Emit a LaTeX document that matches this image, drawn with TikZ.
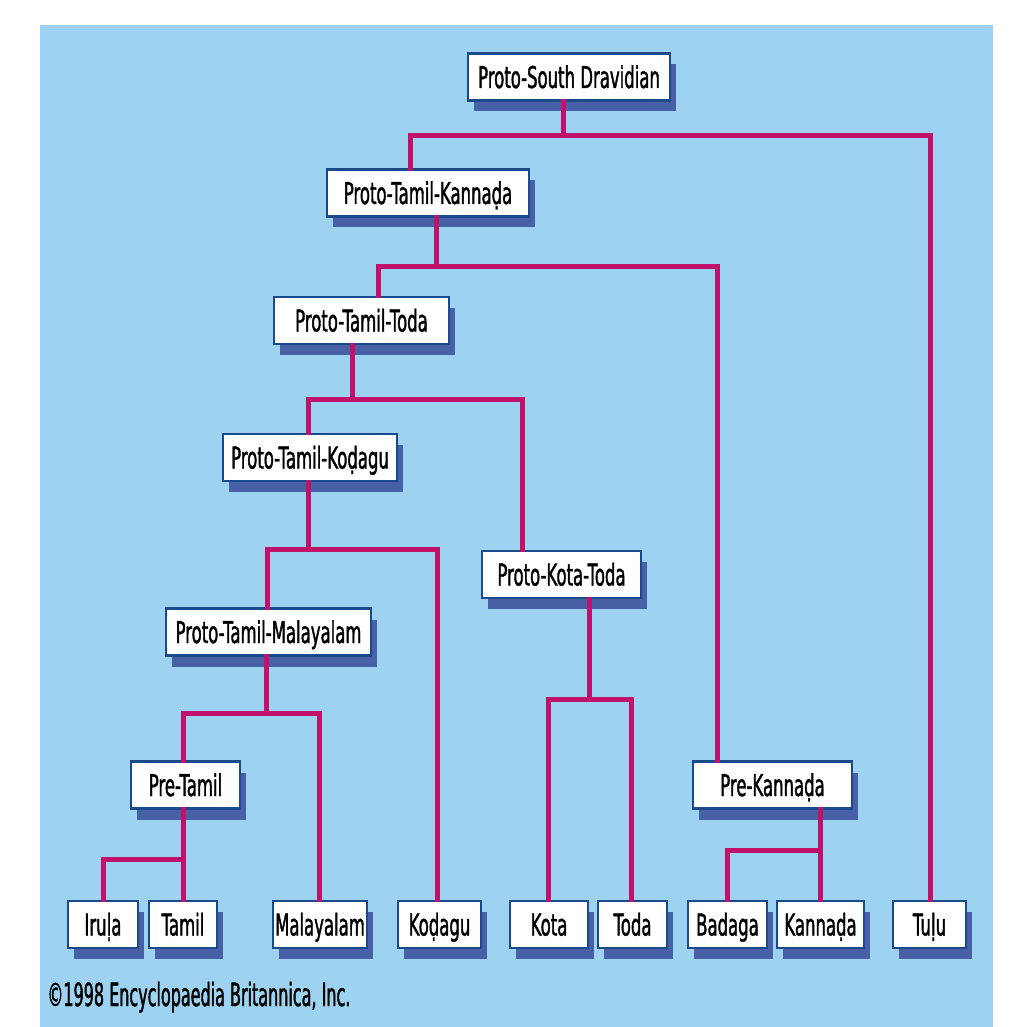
\documentclass[tikz,border=0pt]{standalone}
\usepackage{fontspec}
\newfontfamily\pix[FakeStretch=0.55,FakeBold=1.2]{DejaVu Sans}
\newfontfamily\pixc[FakeStretch=0.5,FakeBold=1.2]{DejaVu Sans}
\usetikzlibrary{shadows}
\definecolor{bgblue}{RGB}{158,210,241}
\definecolor{boxedge}{RGB}{25,75,140}
\definecolor{shadowc}{RGB}{72,96,165}
\definecolor{linkc}{RGB}{192,17,107}
\tikzset{
  box/.style={draw=boxedge, line width=1.2pt, fill=white, inner sep=0pt,
    minimum height=23.5pt, text height=11pt, text depth=0pt,
    font=\pix\fontsize{15}{18}\selectfont,
    drop shadow={shadow xshift=3pt, shadow yshift=-5.5pt, fill=shadowc, opacity=1}},
  link/.style={draw=linkc, line width=2.5pt, line cap=rect}
}
\begin{document}
\begin{tikzpicture}[x=0.5pt,y=-0.5pt]
\useasboundingbox (0,0) rectangle (1014,1027);
\fill[bgblue] (40,25) rectangle (993,1027);

% junction coordinates
\coordinate (j1) at (563,136);
\coordinate (j1l) at (410,136);
\coordinate (j1r) at (930,136);
\coordinate (j2) at (436,266);
\coordinate (j2l) at (378,266);
\coordinate (j2r) at (717,266);
\coordinate (j3) at (352,399);
\coordinate (j3l) at (308,399);
\coordinate (j3r) at (522,399);
\coordinate (j4) at (308,549);
\coordinate (j4l) at (267,549);
\coordinate (j4r) at (437,549);
\coordinate (j5) at (589,699);
\coordinate (j5l) at (548,699);
\coordinate (j5r) at (631,699);
\coordinate (j6) at (266,713);
\coordinate (j6l) at (183,713);
\coordinate (j6r) at (319,713);
\coordinate (j7) at (183,859);
\coordinate (j7l) at (103,859);
\coordinate (j8) at (820,850);
\coordinate (j8l) at (727,850);

% horizontal connectors
\path[link] (j1l) -- (j1r);
\path[link] (j2l) -- (j2r);
\path[link] (j3l) -- (j3r);
\path[link] (j4l) -- (j4r);
\path[link] (j5l) -- (j5r);
\path[link] (j6l) -- (j6r);
\path[link] (j7l) -- (j7);
\path[link] (j8l) -- (j8);

% nodes
\node[box, minimum width=101pt] (psd) at (569,77) {Proto-South Dravidian};
\node[box, minimum width=101pt] (ptk) at (428,193) {Proto-Tamil-Kannaḍa};
\node[box, minimum width=87.5pt] (ptt) at (361.5,320.5) {Proto-Tamil-Toda};
\node[box, minimum width=87pt] (ptkod) at (310,457.5) {Proto-Tamil-Koḍagu};
\node[box, minimum width=79.5pt] (pkt) at (561.5,574.5) {Proto-Kota-Toda};
\node[box, minimum width=102.5pt] (ptm) at (268.5,632) {Proto-Tamil-Malayalam};
\node[box, minimum width=54.5pt] (pret) at (185.5,785) {Pre-Tamil};
\node[box, minimum width=79.5pt] (prek) at (772.5,785) {Pre-Kannaḍa};
\node[box, minimum width=35pt] (iru) at (103,924.5) {Iruḷa};
\node[box, minimum width=34pt] (tam) at (183,924.5) {Tamil};
\node[box, minimum width=47pt] (mal) at (320,924.5) {Malayalam};
\node[box, minimum width=41.5pt] (kod) at (439.5,924.5) {Koḍagu};
\node[box, minimum width=39pt] (kota) at (549,924.5) {Kota};
\node[box, minimum width=34.5pt] (toda) at (632.5,924.5) {Toda};
\node[box, minimum width=39.5pt] (bad) at (727.5,924.5) {Badaga};
\node[box, minimum width=43.5pt] (kan) at (820.5,924.5) {Kannaḍa};
\node[box, minimum width=36.5pt] (tulu) at (929.5,924.5) {Tuḷu};

% vertical connectors between named nodes and junctions
\path[link] (psd.south -| j1) -- (j1);
\path[link] (j1l) -- (j1l |- ptk.north);
\path[link] (j1r) -- (j1r |- tulu.north);
\path[link] (ptk.south -| j2) -- (j2);
\path[link] (j2l) -- (j2l |- ptt.north);
\path[link] (j2r) -- (j2r |- prek.north);
\path[link] (ptt.south -| j3) -- (j3);
\path[link] (j3l) -- (j3l |- ptkod.north);
\path[link] (j3r) -- (j3r |- pkt.north);
\path[link] (ptkod.south -| j4) -- (j4);
\path[link] (j4l) -- (j4l |- ptm.north);
\path[link] (j4r) -- (j4r |- kod.north);
\path[link] (pkt.south -| j5) -- (j5);
\path[link] (j5l) -- (j5l |- kota.north);
\path[link] (j5r) -- (j5r |- toda.north);
\path[link] (ptm.south -| j6) -- (j6);
\path[link] (j6l) -- (j6l |- pret.north);
\path[link] (j6r) -- (j6r |- mal.north);
\path[link] (pret.south -| j7) -- (tam.north -| j7);
\path[link] (j7l) -- (j7l |- iru.north);
\path[link] (prek.south -| j8) -- (kan.north -| j8);
\path[link] (j8l) -- (j8l |- bad.north);

\node[font=\pixc\fontsize{16}{19}\selectfont, anchor=base west, inner sep=0pt] (copy) at (47,1006) {©1998 Encyclopaedia Britannica, Inc.};
\end{tikzpicture}
\end{document}
